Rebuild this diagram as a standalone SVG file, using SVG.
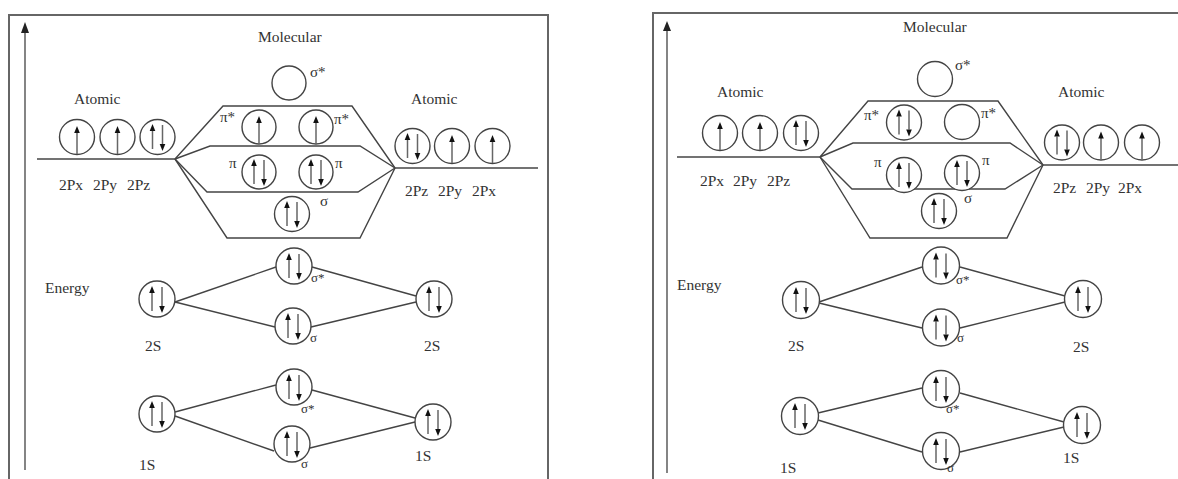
<svg xmlns="http://www.w3.org/2000/svg" xmlns:xlink="http://www.w3.org/1999/xlink" width="1178" height="479" viewBox="0 0 1178 479">
<style>
  .frame{fill:none;stroke:#666;stroke-width:2}
  .axis{stroke:#666;stroke-width:1.6;fill:none}
  .head{fill:#222}
  .orb{fill:#fff;stroke:#444;stroke-width:1.4}
  .ln{fill:none;stroke:#444;stroke-width:1.4}
  .e{stroke:#666;stroke-width:1.5;fill:none}
  .eh{fill:#111}
  text{font-family:"Liberation Serif","Times New Roman",serif;font-size:15.5px;fill:#333}
  .g{font-size:15px}
  .s{font-size:13px}
</style>
<defs>
  <g id="up1">
    <line class="e" x1="0" y1="17" x2="0" y2="-5"/>
    <polygon class="eh" points="0,-11 -2.8,-4 2.8,-4"/>
  </g>
  <g id="pair">
    <line class="e" x1="-5" y1="12" x2="-5" y2="-6"/>
    <polygon class="eh" points="-5,-13 -7.8,-6 -2.2,-6"/>
    <line class="e" x1="5" y1="-12" x2="5" y2="7"/>
    <polygon class="eh" points="5,14 2.2,7 7.8,7"/>
  </g>
</defs>

<rect width="1178" height="479" fill="#fff"/>

<!-- frames and axes -->
<rect class="frame" x="9" y="15" width="539" height="480"/>
<rect class="frame" x="653" y="13" width="540" height="480"/>
<line class="axis" x1="25" y1="470" x2="25" y2="32"/>
<polygon class="head" points="25,22 21,33 29,33"/>
<line class="axis" x1="667" y1="473" x2="667" y2="30"/>
<polygon class="head" points="667,21 663,31 671,31"/>

<!-- connectors -->
<g id="connectors">
  <!-- left panel -->
  <line class="ln" x1="37" y1="159" x2="175" y2="159"/>
  <line class="ln" x1="395" y1="168" x2="538" y2="168"/>
  <polyline class="ln" points="175,159 223,106 352,106 395,168"/>
  <polyline class="ln" points="175,159 210,146 360,146 395,168"/>
  <polyline class="ln" points="175,159 207,192 358,192 395,168"/>
  <polyline class="ln" points="175,159 227,238 360,238 395,168"/>
  <line class="ln" x1="175" y1="302" x2="276" y2="267"/>
  <line class="ln" x1="175" y1="302" x2="275" y2="327"/>
  <line class="ln" x1="312" y1="267" x2="416" y2="296"/>
  <line class="ln" x1="311" y1="327" x2="416" y2="302"/>
  <line class="ln" x1="175" y1="412" x2="276" y2="385"/>
  <line class="ln" x1="175" y1="416" x2="274" y2="451"/>
  <line class="ln" x1="312" y1="390" x2="415" y2="418"/>
  <line class="ln" x1="310" y1="448" x2="415" y2="422"/>
  <!-- right panel -->
  <line class="ln" x1="677" y1="157" x2="820" y2="157"/>
  <line class="ln" x1="1043" y1="165" x2="1178" y2="165"/>
  <polyline class="ln" points="820,157 868,101 998,101 1043,165"/>
  <polyline class="ln" points="820,157 853,143 1010,143 1043,165"/>
  <polyline class="ln" points="820,157 852,189 1005,189 1043,165"/>
  <polyline class="ln" points="820,157 870,238 1007,238 1043,165"/>
  <line class="ln" x1="819" y1="302" x2="922" y2="267"/>
  <line class="ln" x1="819" y1="303" x2="922" y2="328"/>
  <line class="ln" x1="960" y1="267" x2="1065" y2="296"/>
  <line class="ln" x1="960" y1="328" x2="1065" y2="302"/>
  <line class="ln" x1="818" y1="413" x2="922" y2="388"/>
  <line class="ln" x1="818" y1="420" x2="922" y2="452"/>
  <line class="ln" x1="960" y1="393" x2="1064" y2="422"/>
  <line class="ln" x1="960" y1="452" x2="1064" y2="427"/>
</g>

<!-- ===== left panel nodes ===== -->
<g id="L-atomicL-2px"><circle class="orb" cx="77" cy="137" r="17.5"/><use href="#up1" x="77" y="137"/></g>
<g id="L-atomicL-2py"><circle class="orb" cx="117.5" cy="137" r="17.5"/><use href="#up1" x="117.5" y="137"/></g>
<g id="L-atomicL-2pz"><circle class="orb" cx="157.5" cy="137" r="17.5"/><use href="#pair" x="157.5" y="137"/></g>
<g id="L-atomicR-2pz"><circle class="orb" cx="412.5" cy="146" r="17.5"/><use href="#pair" x="412.5" y="146"/></g>
<g id="L-atomicR-2py"><circle class="orb" cx="452" cy="146" r="17.5"/><use href="#up1" x="452" y="146"/></g>
<g id="L-atomicR-2px"><circle class="orb" cx="492.5" cy="146" r="17.5"/><use href="#up1" x="492.5" y="146"/></g>
<g id="L-sigmastar-2p"><circle class="orb" cx="289" cy="83" r="17"/></g>
<g id="L-pistar-a"><circle class="orb" cx="259" cy="127" r="17"/><use href="#up1" x="259" y="127"/></g>
<g id="L-pistar-b"><circle class="orb" cx="316" cy="127" r="17"/><use href="#up1" x="316" y="127"/></g>
<g id="L-pi-a"><circle class="orb" cx="259" cy="172" r="17"/><use href="#pair" x="259" y="172"/></g>
<g id="L-pi-b"><circle class="orb" cx="316" cy="172" r="17"/><use href="#pair" x="316" y="172"/></g>
<g id="L-sigma-2p"><circle class="orb" cx="292" cy="214" r="17.5"/><use href="#pair" x="292" y="214"/></g>
<g id="L-2s-a"><circle class="orb" cx="157" cy="299" r="18"/><use href="#pair" x="157" y="299"/></g>
<g id="L-sigmastar-2s"><circle class="orb" cx="294" cy="266" r="18"/><use href="#pair" x="294" y="266"/></g>
<g id="L-sigma-2s"><circle class="orb" cx="293" cy="326" r="18"/><use href="#pair" x="293" y="326"/></g>
<g id="L-2s-b"><circle class="orb" cx="434" cy="299" r="18"/><use href="#pair" x="434" y="299"/></g>
<g id="L-1s-a"><circle class="orb" cx="157" cy="414" r="18"/><use href="#pair" x="157" y="414"/></g>
<g id="L-sigmastar-1s"><circle class="orb" cx="294" cy="387" r="18"/><use href="#pair" x="294" y="387"/></g>
<g id="L-sigma-1s"><circle class="orb" cx="292" cy="444" r="18"/><use href="#pair" x="292" y="444"/></g>
<g id="L-1s-b"><circle class="orb" cx="433" cy="422" r="18"/><use href="#pair" x="433" y="422"/></g>

<g id="L-labels">
  <text x="258" y="42">Molecular</text>
  <text x="74" y="104">Atomic</text>
  <text x="411" y="104">Atomic</text>
  <text x="59" y="190">2Px</text><text x="93" y="190">2Py</text><text x="127" y="190">2Pz</text>
  <text x="405" y="196">2Pz</text><text x="438" y="196">2Py</text><text x="472" y="196">2Px</text>
  <text x="45" y="293">Energy</text>
  <text x="145" y="351">2S</text><text x="424" y="351">2S</text>
  <text x="139" y="470">1S</text><text x="415" y="461">1S</text>
  <text class="g" x="310" y="77">σ*</text>
  <text class="g" x="220" y="122">π*</text>
  <text class="g" x="334" y="124">π*</text>
  <text class="g" x="229" y="168">π</text>
  <text class="g" x="335" y="168">π</text>
  <text class="g" x="320" y="206">σ</text>
  <text class="s" x="311" y="282">σ*</text>
  <text class="s" x="310" y="342">σ</text>
  <text class="s" x="301" y="413">σ*</text>
  <text class="s" x="301" y="468">σ</text>
</g>

<!-- ===== right panel nodes ===== -->
<g id="R-atomicL-2px"><circle class="orb" cx="720" cy="133" r="17.5"/><use href="#up1" x="720" y="133"/></g>
<g id="R-atomicL-2py"><circle class="orb" cx="760" cy="133" r="17.5"/><use href="#up1" x="760" y="133"/></g>
<g id="R-atomicL-2pz"><circle class="orb" cx="801" cy="133" r="17.5"/><use href="#pair" x="801" y="133"/></g>
<g id="R-atomicR-2pz"><circle class="orb" cx="1062" cy="142.5" r="17.5"/><use href="#pair" x="1062" y="142.5"/></g>
<g id="R-atomicR-2py"><circle class="orb" cx="1101" cy="142.5" r="17.5"/><use href="#up1" x="1101" y="142.5"/></g>
<g id="R-atomicR-2px"><circle class="orb" cx="1142" cy="142.5" r="17.5"/><use href="#up1" x="1142" y="142.5"/></g>
<g id="R-sigmastar-2p"><circle class="orb" cx="935" cy="79" r="17.5"/></g>
<g id="R-pistar-a"><circle class="orb" cx="904" cy="122.5" r="17.5"/><use href="#pair" x="904" y="122.5"/></g>
<g id="R-pistar-b"><circle class="orb" cx="962" cy="122" r="17.5"/></g>
<g id="R-pi-a"><circle class="orb" cx="904" cy="175" r="17.5"/><use href="#pair" x="904" y="175"/></g>
<g id="R-pi-b"><circle class="orb" cx="962" cy="173" r="17.5"/><use href="#pair" x="962" y="173"/></g>
<g id="R-sigma-2p"><circle class="orb" cx="939" cy="211" r="17.5"/><use href="#pair" x="939" y="211"/></g>
<g id="R-2s-a"><circle class="orb" cx="801" cy="300" r="18.5"/><use href="#pair" x="801" y="300"/></g>
<g id="R-sigmastar-2s"><circle class="orb" cx="941" cy="265.5" r="18.5"/><use href="#pair" x="941" y="265.5"/></g>
<g id="R-sigma-2s"><circle class="orb" cx="941" cy="327.5" r="18.5"/><use href="#pair" x="941" y="327.5"/></g>
<g id="R-2s-b"><circle class="orb" cx="1083" cy="299" r="18.5"/><use href="#pair" x="1083" y="299"/></g>
<g id="R-1s-a"><circle class="orb" cx="800" cy="416" r="18.5"/><use href="#pair" x="800" y="416"/></g>
<g id="R-sigmastar-1s"><circle class="orb" cx="941" cy="389" r="18.5"/><use href="#pair" x="941" y="389"/></g>
<g id="R-sigma-1s"><circle class="orb" cx="941" cy="451" r="18.5"/><use href="#pair" x="941" y="451"/></g>
<g id="R-1s-b"><circle class="orb" cx="1082" cy="425" r="18.5"/><use href="#pair" x="1082" y="425"/></g>

<g id="R-labels">
  <text x="903" y="32">Molecular</text>
  <text x="717" y="97">Atomic</text>
  <text x="1058" y="97">Atomic</text>
  <text x="700" y="186">2Px</text><text x="733" y="186">2Py</text><text x="767" y="186">2Pz</text>
  <text x="1053" y="193">2Pz</text><text x="1086" y="193">2Py</text><text x="1118" y="193">2Px</text>
  <text x="677" y="290">Energy</text>
  <text x="788" y="351">2S</text><text x="1073" y="352">2S</text>
  <text x="780" y="473">1S</text><text x="1063" y="463">1S</text>
  <text class="g" x="955" y="70">σ*</text>
  <text class="g" x="864" y="120">π*</text>
  <text class="g" x="981" y="118">π*</text>
  <text class="g" x="874" y="167">π</text>
  <text class="g" x="982" y="165">π</text>
  <text class="g" x="964" y="203">σ</text>
  <text class="s" x="956" y="284">σ*</text>
  <text class="s" x="957" y="342">σ</text>
  <text class="s" x="946" y="413">σ*</text>
  <text class="s" x="947" y="472">σ</text>
</g>
</svg>
